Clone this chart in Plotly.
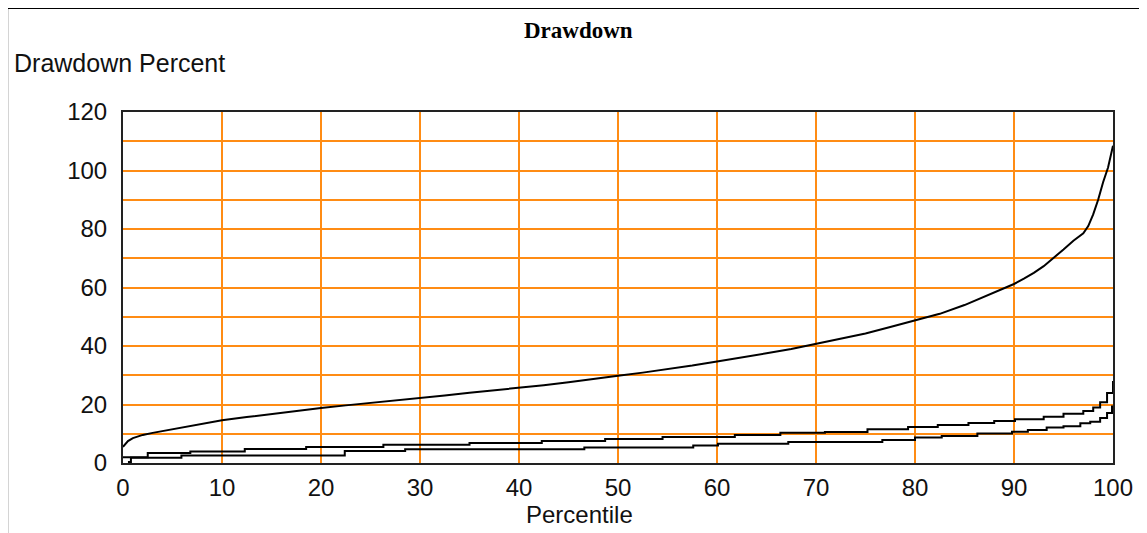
import plotly.graph_objects as go

# percentile axis positions and drawdown percent values
upper_x = [0, 0.5, 1, 2, 3, 5, 7.5, 10, 12.5, 15, 17.5, 20, 22.5, 25, 27.5, 30,
           32.5, 35, 37.5, 40, 42.5, 45, 47.5, 50, 52.5, 55, 57.5, 60, 62.5, 65,
           67.5, 70, 72.5, 75, 77.5, 80, 82.5, 85, 87.5, 90, 91, 92, 93, 94, 95,
           96, 97, 97.5, 98, 98.5, 99, 99.5, 100]
upper_y = [5.5, 7.5, 8.5, 9.6, 10.3, 11.5, 13.0, 14.6, 15.7, 16.8, 17.8, 18.8,
           19.7, 20.5, 21.3, 22.2, 23.1, 24.0, 24.8, 25.7, 26.6, 27.6, 28.6, 29.8,
           30.9, 32.0, 33.3, 34.7, 36.0, 37.5, 39.0, 40.8, 42.5, 44.3, 46.5, 48.8,
           51.0, 54.0, 57.5, 61.2, 63.0, 65.0, 67.3, 70.0, 73.0, 76.0, 78.5, 81.0,
           85.0, 90.0, 96.0, 101.0, 108.5]

middle_x = [0, 2.5, 6.8, 12.3, 18.5, 26.3, 35, 42.3, 48.7, 54.5, 61.8, 66.4, 70.9,
            75.2, 79.3, 82.3, 85.4, 88, 90.1, 93, 95, 97, 98, 98.7, 99.4, 100]
middle_y = [2.0, 3.4, 3.9, 4.8, 5.5, 6.2, 6.8, 7.5, 8.2, 8.9, 9.6, 10.3, 10.6,
            11.5, 12.3, 13.0, 13.7, 14.4, 15.0, 15.8, 16.8, 17.8, 19.0, 20.8,
            23.9, 28.0]

lower_x = [0.5, 0.8, 5.9, 22.4, 28.5, 46.6, 57.6, 60.1, 67.2, 76.7, 80, 82.7,
           86.3, 89.8, 91.4, 93.3, 95, 96.7, 97.7, 98.7, 99.4, 99.9, 100]
lower_y = [0.3, 1.8, 2.6, 4.1, 4.7, 5.3, 6.0, 6.6, 7.2, 7.9, 8.7, 9.2, 10.1,
           10.7, 11.3, 12.1, 12.6, 13.6, 14.1, 15.4, 17.1, 19.3, 19.5]

GRID = "#FF8C14"
SANS = "Liberation Sans, Arial, sans-serif"

fig = go.Figure()
fig.add_trace(go.Scatter(x=upper_x, y=upper_y, mode="lines",
                         line=dict(color="black", width=2)))
fig.add_trace(go.Scatter(x=middle_x, y=middle_y, mode="lines",
                         line=dict(color="black", width=2, shape="hv")))
fig.add_trace(go.Scatter(x=lower_x, y=lower_y, mode="lines",
                         line=dict(color="black", width=2, shape="hv")))

fig.update_xaxes(
    range=[0, 100], dtick=10, showgrid=True, gridcolor=GRID, gridwidth=2,
    showline=True, linecolor="#222", linewidth=2, mirror=True,
    zeroline=False, ticks="", ticklabelstandoff=2,
    tickfont=dict(family=SANS, size=24, color="#111"),
)
fig.update_yaxes(
    range=[0, 120], dtick=20, showgrid=True, gridcolor=GRID, gridwidth=2,
    minor=dict(dtick=10, showgrid=True, gridcolor=GRID, gridwidth=2),
    showline=True, linecolor="#222", linewidth=2, mirror=True,
    zeroline=False, ticks="", ticklabelstandoff=9,
    tickfont=dict(family=SANS, size=24, color="#111"),
)

# the page body adds an 8px offset, so margins are shifted to compensate
fig.update_layout(
    width=1147, height=533,
    margin=dict(l=115, r=42, t=104, b=78),
    paper_bgcolor="white", plot_bgcolor="white",
    showlegend=False,
    annotations=[
        dict(text="<b>Drawdown</b>", xref="paper", yref="paper",
             x=0.4596, y=1.2336, xanchor="center", yanchor="middle",
             showarrow=False,
             font=dict(family="Liberation Serif, Times New Roman, serif",
                       size=23, color="black")),
        dict(text="Drawdown Percent", xref="paper", yref="paper",
             x=-0.1121, y=1.1396, xanchor="left", yanchor="middle",
             showarrow=False, font=dict(family=SANS, size=25, color="#111")),
        dict(text="Percentile", xref="paper", yref="paper",
             x=0.4616, y=-0.148, xanchor="center", yanchor="middle",
             showarrow=False, font=dict(family=SANS, size=24, color="#111")),
    ],
    shapes=[
        dict(type="rect", xref="paper", yref="paper",
             x0=-0.117, x1=1.06, y0=-0.25, y1=1.296,
             line=dict(color="black", width=2)),
    ],
)

fig.write_html("out.html")
